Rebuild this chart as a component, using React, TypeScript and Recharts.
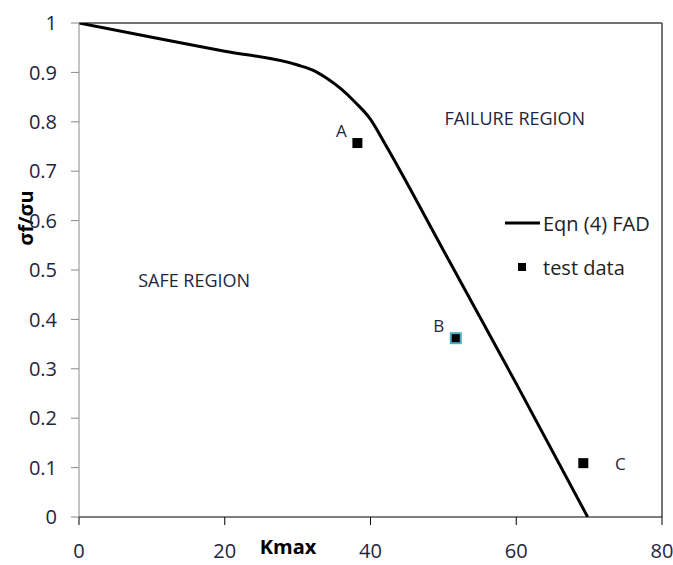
import React from "react";
import {
  ComposedChart,
  Line,
  Scatter,
  XAxis,
  YAxis,
  ReferenceLine,
  ReferenceDot,
  LabelList,
} from "recharts";

// FAD curve (Eqn 4)
const curveK = [0, 10, 20, 30, 32, 34, 36, 38, 40, 42, 50, 60, 69.8];
const curveS = [1.0, 0.971, 0.943, 0.915, 0.905, 0.888, 0.866, 0.838, 0.805, 0.755, 0.54, 0.27, 0.0];

// test data
const testNames = ["A", "B", "C"];
const testK = [38.2, 51.7, 69.2];
const testS = [0.757, 0.362, 0.109];

const xTicks = [0, 20, 40, 60, 80];
const yTicks = [0, 0.1, 0.2, 0.3, 0.4, 0.5, 0.6, 0.7, 0.8, 0.9, 1];

const curveData = curveK.map((x, i) => ({ x, y: curveS[i] }));
const testData = testK.map((x, i) => ({ x, y: testS[i], name: testNames[i] }));

const FONT = "'Open Sans', sans-serif";
const TEXT = "#1f2540";

const labelOffsets: Record<string, [number, number]> = {
  A: [-16, -13],
  B: [-17, -13],
  C: [37, 0],
};

const SquareMarker = (props: any) => {
  const { cx, cy, payload } = props;
  const isB = payload && payload.name === "B";
  return (
    <rect
      x={cx - 5}
      y={cy - 5}
      width={10}
      height={10}
      fill="#000"
      stroke={isB ? "#4bacc6" : "#000"}
      strokeWidth={isB ? 2 : 0}
    />
  );
};

const PointLabel = (props: any) => {
  const { x, y, width, height, value } = props;
  const cx = x + (width || 0) / 2;
  const cy = y + (height || 0) / 2;
  const [dx, dy] = labelOffsets[value] || [0, 0];
  return (
    <text
      x={cx + dx}
      y={cy + dy}
      textAnchor="middle"
      dominantBaseline="central"
      fontSize={17}
      fontFamily={FONT}
      fill={TEXT}
    >
      {value}
    </text>
  );
};

// legend drawn as an overlay so it does not steal plot space
const LegendBox = () => (
  <svg
    width={175}
    height={80}
    style={{ position: "absolute", left: 498, top: 208 }}
  >
    <line x1={7} y1={15} x2={42} y2={15} stroke="#000" strokeWidth={3} />
    <text x={45} y={15} dominantBaseline="central" fontSize={20} fontFamily={FONT} fill="#222">
      Eqn (4) FAD
    </text>
    <rect x={20} y={55} width={8} height={8} fill="#000" />
    <text x={45} y={59} dominantBaseline="central" fontSize={20} fontFamily={FONT} fill="#222">
      test data
    </text>
  </svg>
);

export default function App() {
  return (
    <div
      style={{
        position: "absolute",
        left: 0,
        top: 0,
        width: 673,
        height: 565,
        background: "#fff",
      }}
    >
      <ComposedChart
        width={673}
        height={565}
        data={curveData}
        margin={{ top: 23, right: 11, bottom: 8, left: 19 }}
      >
        <XAxis
          type="number"
          dataKey="x"
          domain={[0, 80]}
          ticks={xTicks}
          allowDataOverflow
          height={40}
          stroke="#000"
          tickSize={8}
          tickMargin={19}
          tick={{ fill: TEXT, fontSize: 20, fontFamily: FONT }}
          label={() => (
            <text
              x={288}
              y={546}
              textAnchor="middle"
              dominantBaseline="central"
              fontSize={20}
              fontWeight="bold"
              fontFamily={FONT}
              fill="#000"
            >
              Kmax
            </text>
          )}
        />
        <YAxis
          type="number"
          dataKey="y"
          domain={[0, 1]}
          ticks={yTicks}
          allowDataOverflow
          width={60}
          stroke="#888"
          tickSize={8}
          tickMargin={14}
          tick={{ fill: TEXT, fontSize: 20, fontFamily: FONT }}
          label={() => (
            <text
              x={25.5}
              y={218}
              transform="rotate(-90 25.5 218)"
              textAnchor="middle"
              dominantBaseline="central"
              fontSize={20}
              fontWeight="bold"
              fontFamily={FONT}
              fill="#000"
            >
              σf/σu
            </text>
          )}
        />
        <ReferenceLine y={1} stroke="#444" strokeWidth={1.5} />
        <ReferenceLine x={80} stroke="#444" strokeWidth={1.5} />
        <ReferenceDot
          x={59.8}
          y={0.806}
          r={0}
          stroke="none"
          label={{ value: "FAILURE REGION", position: "center", fill: TEXT, fontSize: 18, fontFamily: FONT }}
        />
        <ReferenceDot
          x={15.8}
          y={0.479}
          r={0}
          stroke="none"
          label={{ value: "SAFE REGION", position: "center", fill: TEXT, fontSize: 18, fontFamily: FONT }}
        />
        <Line
          type="monotone"
          dataKey="y"
          stroke="#000"
          strokeWidth={3}
          dot={false}
          isAnimationActive={false}
          name="Eqn (4) FAD"
        />
        <Scatter
          data={testData}
          dataKey="y"
          shape={SquareMarker}
          isAnimationActive={false}
          name="test data"
        >
          <LabelList dataKey="name" content={PointLabel} />
        </Scatter>
      </ComposedChart>
      <LegendBox />
    </div>
  );
}
